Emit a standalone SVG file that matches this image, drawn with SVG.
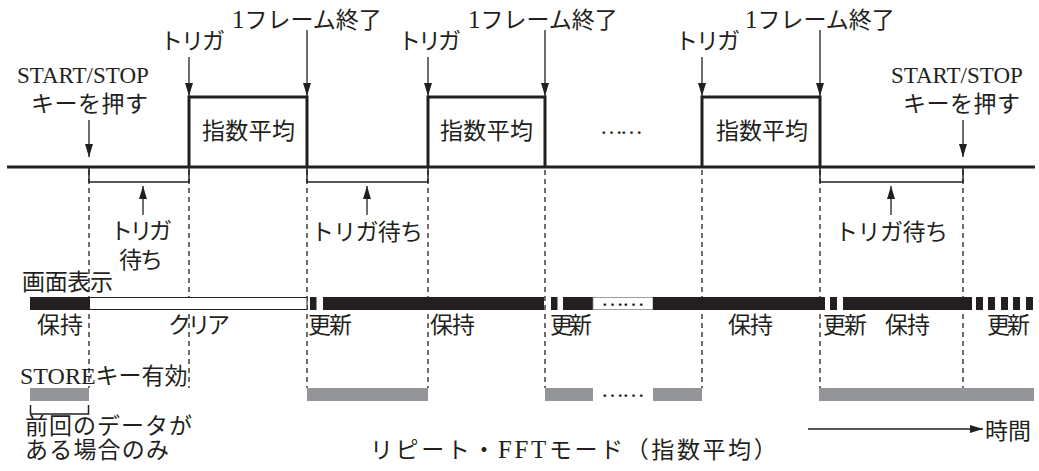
<svg xmlns="http://www.w3.org/2000/svg" width="1039" height="471" viewBox="0 0 1039 471">
<style>
text{font-family:"Liberation Serif","Noto Sans CJK JP",serif;font-size:23px;fill:#231f20}
.lat{font-size:25px}
.thick{stroke:#231f20;stroke-width:3;fill:none}
.thin{stroke:#231f20;stroke-width:1.5;fill:none}
.dash{stroke:#231f20;stroke-width:1.3;stroke-dasharray:5 4;fill:none}
.arr{stroke:#231f20;stroke-width:1.3;fill:none;marker-end:url(#ah)}
.blk{fill:#231f20}
.wht{fill:#fff;stroke:#231f20;stroke-width:1}
.gry{fill:#939598}
</style>
<defs>
<marker id="ah" markerUnits="userSpaceOnUse" markerWidth="14" markerHeight="10" refX="13" refY="4" orient="auto">
<path d="M0,0 L13,4 L0,8 Z" fill="#231f20"/>
</marker>
</defs>
<rect width="1039" height="471" fill="#fff"/>
<g id="guides">
<path class="dash" d="M89,170V388M189,170V388M307,170V388M428,170V388M545,170V388M702,170V388M820,170V388M963,170V388"/>
</g>
<g id="timeline">
<path class="thick" d="M7,167H1035"/>
<path class="thin" d="M89,167V182H189V167"/>
<path class="thin" d="M307,167V182H428V167"/>
<path class="thin" d="M820,167V182H963V167"/>
</g>
<g id="connectors">
<path class="arr" d="M89,120V157"/>
<path class="arr" d="M963,120V157"/>
<path class="arr" d="M189,57V96"/>
<path class="arr" d="M428,57V96"/>
<path class="arr" d="M702,57V96"/>
<path class="arr" d="M307,30V96"/>
<path class="arr" d="M545,30V96"/>
<path class="arr" d="M820,30V96"/>
<path class="arr" d="M143,215V186"/>
<path class="arr" d="M367,215V186"/>
<path class="arr" d="M891,215V186"/>
<path class="arr" d="M808,429H983"/>
</g>
<g id="top-labels">
<text x="232" y="28"><tspan class="lat">1</tspan>フレーム終了</text>
<text x="468" y="28"><tspan class="lat">1</tspan>フレーム終了</text>
<text x="745" y="28"><tspan class="lat">1</tspan>フレーム終了</text>
<text x="160" y="49" font-size="22" textLength="65">トリガ</text>
<text x="398" y="49" font-size="22" textLength="63">トリガ</text>
<text x="675" y="49" font-size="22" textLength="65">トリガ</text>
<text x="17" y="83" font-size="24">START/STOP</text>
<text x="31" y="112" textLength="117">キーを押す</text>
<text x="891" y="83" font-size="24">START/STOP</text>
<text x="903" y="112" textLength="117">キーを押す</text>
</g>
<g id="pulse1">
<path class="thick" d="M189,167V97H307V167"/>
<text x="202" y="139" textLength="93">指数平均</text>
</g>
<g id="pulse2">
<path class="thick" d="M428,167V97H545V167"/>
<text x="440" y="139" textLength="93">指数平均</text>
</g>
<g id="pulse3">
<path class="thick" d="M702,167V97H820V167"/>
<text x="716" y="139" textLength="92">指数平均</text>
</g>
<text x="600" y="134" font-size="22" textLength="43">……</text>
<g id="wait-labels">
<text x="110" y="239" textLength="62">トリガ</text>
<text x="119" y="268" textLength="44">待ち</text>
<text x="311" y="240" textLength="112">トリガ待ち</text>
<text x="835" y="240" textLength="113">トリガ待ち</text>
</g>
<g id="display">
<text x="22" y="290" textLength="91">画面表示</text>
<rect class="blk" x="30" y="297" width="59" height="13"/>
<rect class="wht" x="89.5" y="297.5" width="217.5" height="12"/>
<rect class="blk" x="310" y="297" width="6.5" height="13"/>
<rect class="blk" x="323" y="297" width="221" height="13"/>
<rect class="blk" x="551" y="297" width="6.5" height="13"/>
<rect class="blk" x="563" y="297" width="30" height="13"/>
<rect x="593" y="297.5" width="60" height="12" fill="#fff" stroke="#888" stroke-width="0.8"/>
<text x="601" y="306" font-size="14" textLength="44">……</text>
<rect class="blk" x="653" y="297" width="172" height="13"/>
<rect class="blk" x="830" y="297" width="7" height="13"/>
<rect class="blk" x="843" y="297" width="129" height="13"/>
<rect class="blk" x="976" y="297" width="7" height="13"/>
<rect class="blk" x="988" y="297" width="7" height="13"/>
<rect class="blk" x="1001" y="297" width="7" height="13"/>
<rect class="blk" x="1013" y="297" width="7" height="13"/>
<rect class="blk" x="1026" y="297" width="7" height="13"/>
<text x="37" y="333" textLength="46">保持</text>
<text x="168" y="333" textLength="62">クリア</text>
<text x="308" y="333" textLength="44">更新</text>
<text x="430" y="333" textLength="45">保持</text>
<text x="550" y="333" textLength="42">更新</text>
<text x="728" y="333" textLength="45">保持</text>
<text x="823" y="333" textLength="44">更新</text>
<text x="885" y="333" textLength="45">保持</text>
<text x="987" y="333" textLength="43">更新</text>
</g>
<g id="store">
<text x="20" y="384"><tspan font-size="24">STORE</tspan>キー有効</text>
<rect class="gry" x="30" y="388" width="59" height="13"/>
<rect class="gry" x="307" y="388" width="121" height="13"/>
<rect class="gry" x="545" y="388" width="48" height="13"/>
<text x="601" y="397" font-size="14" textLength="44">……</text>
<rect class="gry" x="653" y="388" width="49" height="13"/>
<rect class="gry" x="819" y="388" width="215" height="13"/>
<path class="thin" d="M30.5,405V414H88.5V405"/>
<text x="25" y="434" font-size="21" textLength="167">前回のデータが</text>
<text x="25" y="458" font-size="21" textLength="144">ある場合のみ</text>
</g>
<g id="footer">
<text x="370" y="458" letter-spacing="2.6">リピート・<tspan class="lat">FFT</tspan>モード（指数平均）</text>
<text x="985" y="439" textLength="46">時間</text>
</g>
</svg>
